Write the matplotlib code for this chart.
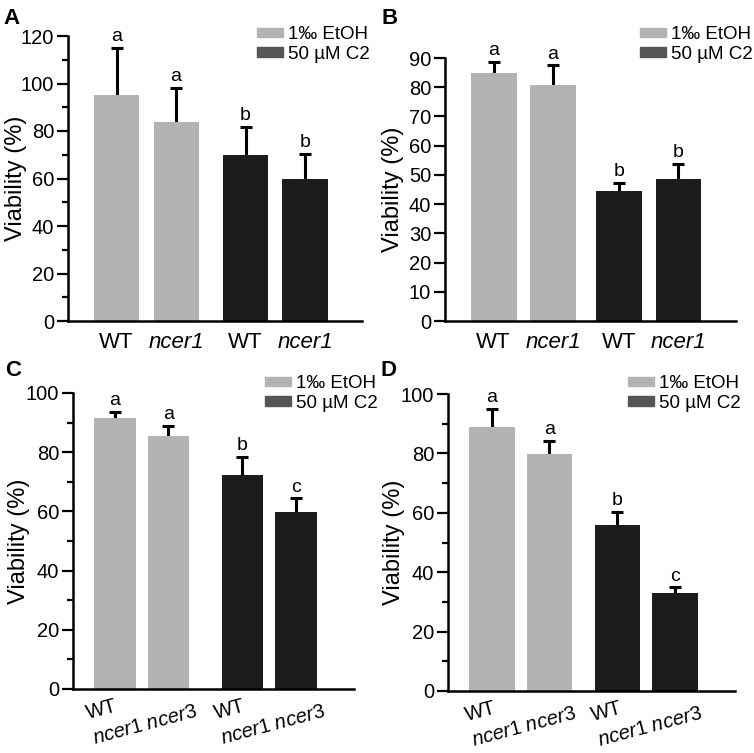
import matplotlib
matplotlib.use("Agg")
import matplotlib.pyplot as plt
from matplotlib.patches import Patch
from matplotlib.ticker import MultipleLocator

plt.rcParams['font.family'] = ['Liberation Sans', 'DejaVu Sans']
plt.rcParams['mathtext.fontset'] = 'custom'
plt.rcParams['mathtext.rm'] = 'Liberation Sans'
plt.rcParams['mathtext.it'] = 'Liberation Sans:italic'

# data
legend_labels = ["1\u2030 EtOH", "50 \u00b5M C2"]

a_labels = ["WT", "ncer1", "WT", "ncer1"]
a_mean = [95.3, 83.8, 69.8, 60.0]
a_err = [19.8, 14.4, 11.8, 10.2]
a_letters = ["a", "a", "b", "b"]

b_labels = ["WT", "ncer1", "WT", "ncer1"]
b_mean = [84.9, 80.6, 44.4, 48.6]
b_err = [3.7, 6.9, 2.8, 5.1]
b_letters = ["a", "a", "b", "b"]

c_groups = ["WT\n$\\mathit{ncer1}$ $\\mathit{ncer3}$", "WT\n$\\mathit{ncer1}$ $\\mathit{ncer3}$"]
c_mean = [91.6, 85.4, 72.4, 59.8]
c_err = [2.1, 3.5, 6.0, 4.6]
c_letters = ["a", "a", "b", "c"]

d_groups = ["WT\n$\\mathit{ncer1}$ $\\mathit{ncer3}$", "WT\n$\\mathit{ncer1}$ $\\mathit{ncer3}$"]
d_mean = [88.8, 79.7, 56.0, 33.0]
d_err = [6.1, 4.5, 4.4, 1.9]
d_letters = ["a", "a", "b", "c"]

GRAY = "#b3b3b3"
DARK = "#1c1c1c"
LEG_DARK = "#555555"

W, H = 754, 753
fig = plt.figure(figsize=(W / 100, H / 100), dpi=100)


def px_axes(left, right, top, bottom):
    return fig.add_axes([left / W, 1 - bottom / H, (right - left) / W, (bottom - top) / H])


def panel(ax, mean, err, letters, gap, width, xlim, ymax, major, minor, label_x):
    x = [0, 1, 1 + gap, 2 + gap]
    colors = [GRAY, GRAY, DARK, DARK]
    ax.errorbar(x, mean, yerr=err, fmt="none", ecolor="black", elinewidth=2.2,
                capsize=4, capthick=2.2, zorder=1)
    ax.bar(x, mean, width=width, color=colors, zorder=2)
    for xi, m, e, t in zip(x, mean, err, letters):
        ax.annotate(t, (xi, m + e), xytext=(0, 2), textcoords="offset points",
                    ha="center", va="bottom", fontsize=14)
    ax.set_xlim(*xlim)
    ax.set_ylim(0, ymax)
    ax.yaxis.set_major_locator(MultipleLocator(major))
    if minor:
        ax.yaxis.set_minor_locator(MultipleLocator(minor))
    for s in ["top", "right"]:
        ax.spines[s].set_visible(False)
    for s in ["left", "bottom"]:
        ax.spines[s].set_linewidth(1.8)
    ax.tick_params(axis="y", which="major", length=8, width=1.6, labelsize=14.5, pad=2)
    ax.tick_params(axis="y", which="minor", length=4.5, width=1.6)
    ax.tick_params(axis="x", length=0)
    ax.set_ylabel("Viability (%)", fontsize=17)
    ax.yaxis.set_label_coords(label_x, 0.5)
    return x


def legend(ax, left, top):
    handles = [Patch(color=GRAY), Patch(color=LEG_DARK)]
    ax.legend(handles, legend_labels, loc="upper left",
              bbox_to_anchor=(left / W, 1 - top / H), bbox_transform=fig.transFigure,
              frameon=False, fontsize=13.5, borderpad=0, borderaxespad=0,
              handlelength=1.4, handleheight=0.38, handletextpad=0.25, labelspacing=0.15)


def group_labels(ax, x, labels):
    ax.set_xticks([(x[0] + x[1]) / 2, (x[2] + x[3]) / 2])
    ax.set_xticklabels(labels, fontsize=14.5, rotation=15, ha="center",
                       multialignment="left", linespacing=1.45)
    ax.tick_params(axis="x", pad=-9)


# A
ax = px_axes(68, 362, 36, 321)
x = panel(ax, a_mean, a_err, a_letters, 1.17, 0.76, (-0.82, 4.13), 120, 20, 10, -0.139)
ax.set_xticks(x)
ax.set_xticklabels(a_labels, fontsize=16)
ax.tick_params(axis="x", pad=8)
for lab in ax.get_xticklabels()[1::2]:
    lab.set_fontstyle("italic")
legend(ax, 257, 26)

# B
ax = px_axes(445, 736, 58, 321)
x = panel(ax, b_mean, b_err, b_letters, 1.11, 0.77, (-0.82, 4.08), 90, 10, None, -0.141)
ax.set_xticks(x)
ax.set_xticklabels(b_labels, fontsize=16)
ax.tick_params(axis="x", pad=8)
for lab in ax.get_xticklabels()[1::2]:
    lab.set_fontstyle("italic")
legend(ax, 640, 26)

# C
ax = px_axes(73, 354, 393, 689)
x = panel(ax, c_mean, c_err, c_letters, 1.38, 0.78, (-0.78, 4.46), 100, 20, 10, -0.153)
group_labels(ax, x, c_groups)
legend(ax, 265, 375)

# D
ax = px_axes(448, 735, 394, 691)
x = panel(ax, d_mean, d_err, d_letters, 1.18, 0.79, (-0.76, 4.22), 100, 20, 10, -0.150)
group_labels(ax, x, d_groups)
legend(ax, 628, 375)

for t, px, py in [("A", 3, 8), ("B", 382, 8), ("C", 5, 360), ("D", 380, 360)]:
    fig.text(px / W, 1 - py / H, t, fontsize=16, fontweight="bold", va="top", ha="left")

fig.savefig("out.png", dpi=100)
